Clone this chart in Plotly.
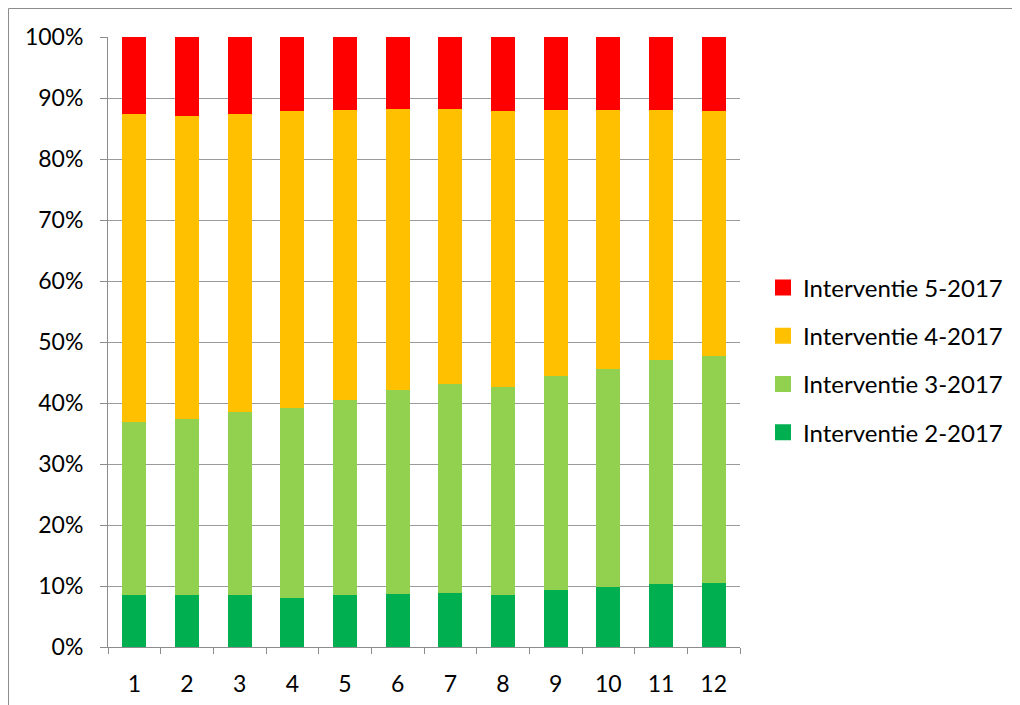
import plotly.graph_objects as go

categories = ["1", "2", "3", "4", "5", "6", "7", "8", "9", "10", "11", "12"]

# cumulative tops (percent)
top_2 = [8.6, 8.6, 8.6, 8.1, 8.6, 8.7, 8.9, 8.5, 9.4, 9.9, 10.3, 10.5]
top_3 = [36.9, 37.4, 38.5, 39.1, 40.5, 42.1, 43.1, 42.7, 44.5, 45.5, 47.0, 47.7]
top_4 = [87.4, 87.0, 87.35, 87.9, 88.0, 88.2, 88.2, 87.85, 88.1, 88.1, 88.0, 87.85]

interventie_2 = top_2
interventie_3 = [b - a for a, b in zip(top_2, top_3)]
interventie_4 = [b - a for a, b in zip(top_3, top_4)]
interventie_5 = [100 - a for a in top_4]

series = [
    ("Interventie 2-2017", interventie_2, "#00B050"),
    ("Interventie 3-2017", interventie_3, "#92D050"),
    ("Interventie 4-2017", interventie_4, "#FFC000"),
    ("Interventie 5-2017", interventie_5, "#FF0000"),
]

fig = go.Figure()
for name, vals, col in series:
    fig.add_trace(go.Bar(x=categories, y=vals, name=name, marker=dict(color=col, line=dict(width=0)),
                         showlegend=False))
# legend proxies (larger square symbols), top-to-bottom order as in the reference
for i, (name, vals, col) in enumerate(reversed(series)):
    fig.add_trace(go.Scatter(x=[None], y=[None], mode="markers", name=name,
                             marker=dict(symbol="square", size=16, color=col, line=dict(width=0)),
                             legendgroup=f"p{i}", showlegend=True, hoverinfo="skip"))

font_family = "Lato, 'Open Sans', Arial, sans-serif"
fig.update_layout(
    barmode="stack",
    barnorm="percent",
    bargap=0.54,
    width=1020, height=705,
    margin=dict(l=100, r=288, t=29, b=66),
    plot_bgcolor="white", paper_bgcolor="white",
    font=dict(family=font_family, size=23, color="black"),
    legend=dict(traceorder="grouped", x=1.0364, y=0.4705, xanchor="left", yanchor="middle",
                font=dict(size=24), tracegroupgap=14, bgcolor="rgba(0,0,0,0)"),
    showlegend=True,
)
fig.update_xaxes(type="category", showline=True, linecolor="#8C8C8C", linewidth=1,
                 ticks="outside", tickson="boundaries", ticklen=6, tickcolor="#8C8C8C",
                 showgrid=False, tickfont=dict(size=23), ticklabelstandoff=16)
fig.update_yaxes(range=[0, 100], dtick=10, ticksuffix="%", showgrid=True, gridcolor="#9A9A9A",
                 gridwidth=1, showline=True, linecolor="#8C8C8C", linewidth=1,
                 ticks="outside", ticklen=7, tickcolor="#8C8C8C", tickfont=dict(size=23),
                 zeroline=False, ticklabelstandoff=12)
fig.add_shape(type="rect", xref="paper", yref="paper", x0=-0.1574, y0=-0.5, x1=1.6, y1=1.0467,
              line=dict(color="#8C8C8C", width=1), fillcolor="rgba(0,0,0,0)", layer="above")

fig.write_html("out.html")
